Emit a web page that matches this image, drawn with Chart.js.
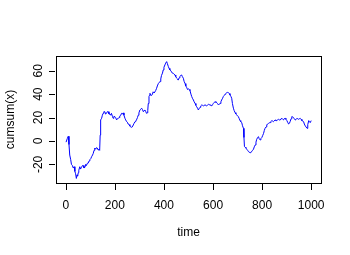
<!DOCTYPE html>
<html><head><meta charset="utf-8">
<script src="https://cdn.jsdelivr.net/npm/chart.js@4/dist/chart.umd.min.js"></script>
<style>html,body{margin:0;padding:0;background:#fff}#wrap{width:350px;height:255px}</style>
</head><body><div id="wrap"><canvas id="c" width="350" height="255"></canvas></div>
<script>
const time = [1,6,10,13,16,20,23,27,30,34,37,40,43,46,48,51,53,57,60,64,68,71,74,78,81,84,88,91,95,98,102,105,109,112,115,118,122,125,128,132,135,138,140,142,146,149,152,155,159,162,166,169,173,176,180,183,186,190,193,196,200,203,207,210,214,217,220,224,227,230,234,237,241,244,248,251,254,258,261,264,268,271,275,278,282,285,288,292,295,298,302,305,309,312,316,319,322,326,329,332,334,336,339,341,343,346,350,353,356,360,363,366,370,373,377,380,384,387,390,394,397,400,404,407,411,414,418,421,424,428,431,434,438,441,445,448,452,455,458,462,465,468,472,475,479,482,486,489,493,496,500,503,506,510,513,516,520,523,527,530,533,537,540,543,547,550,554,557,561,564,567,571,574,577,581,584,588,591,595,598,601,605,608,612,615,618,622,625,629,632,635,639,642,646,649,652,656,659,663,666,669,673,676,679,683,686,690,693,697,700,703,707,710,713,717,720,724,726,728,731,734,737,741,744,747,751,754,758,761,765,768,772,775,778,782,785,788,792,795,799,802,806,809,812,816,819,822,826,829,833,836,839,843,846,849,853,856,860,863,867,870,874,877,880,884,887,890,894,897,901,904,908,911,914,918,921,925,928,931,935,938,942,945,949,952,955,959,962,966,969,972,976,979,983,986,990,993,996,1000];
const cumsumX = [-1,2,4,-3,-12,-16,-20,-21,-23,-22,-26,-28,-32,-29,-30,-27,-25,-22,-24,-22.5,-21,-21,-23,-22.5,-20,-21,-19,-19,-17,-16,-15,-13.5,-12,-10.5,-8,-6,-7,-5.7,-6,-7.7,-7,-8,5,18,19.4,22,23.6,25,25,23,23.6,25,25,23,23,22,23.6,21,19.4,21,20.8,20,18,19,19.4,20,21.4,22,23.6,23,24,22,19.4,18,16.5,16,14.5,14,12.8,12,11.7,12,13.7,15,16.5,17,18,20,22,24,26.5,27,28,27,25,26,26.5,25,23.6,24,26,32,38,39,40.7,39,39,40,42,41,41,43,45,47,49,50,50.7,53,56,58,60.7,63,65,66.5,67.8,66,63.5,62,60.7,60,59,58,57.8,57,56.4,55,53.6,53,52,54,55,56,56.4,55,53.6,51,49,47,45.5,44,44.5,44,43,40,38,36.5,35,33.5,32,30.5,29.3,28,26.5,27.5,28.8,30,30.8,30.5,30,30.5,30.8,30.5,30,30.5,31.3,31,30.8,30.5,30,31,32,33,33.6,33,32.8,32,30.8,31.5,32,33.5,35,36.5,38,39,40,40.5,41.3,41.5,41.3,40.5,39.3,38,36.5,32,28,26,24.2,23,22.2,21.5,20.8,19,17.4,16.5,15.7,13,10.8,3,-4.8,-5.4,-6,-7,-8,-9,-9.5,-10,-9.5,-9,-8,-7,-5,-3.4,-1,1.4,3,3.7,2,0.9,2,3,4.5,6.5,9,10.8,12,13.7,14.5,15,15.5,15.7,16.5,17.4,17,16.5,17,18,17.5,17.4,18,18.5,18,18,19,19.4,18.5,18,19,19.4,18.5,17.4,16,14.5,15,16.5,19,20.8,20.5,20,19,18,18.5,19.4,19,18.5,19,19.4,18.5,17.4,17,16.5,14.5,12.8,12,10.8,14,17.4,16.5,15.7,17.4];
const xTicks = [0,200,400,600,800,1000];
const yTicks = [-20,0,20,40,60];
const xLabel = 'time';
const yLabel = 'cumsum(x)';

const FONT = '12px "Liberation Sans", Arial, sans-serif';
const rAxes = {
  id: 'rAxes',
  afterDraw(chart) {
    const ctx = chart.ctx, a = chart.chartArea;
    const xs = chart.scales.x, ys = chart.scales.y;
    ctx.save();
    ctx.strokeStyle = '#000'; ctx.lineWidth = 1;
    ctx.strokeRect(Math.round(a.left) + 0.5, Math.round(a.top) + 0.5, Math.round(a.right - a.left), Math.round(a.bottom - a.top));
    ctx.fillStyle = '#000'; ctx.font = FONT;
    // x ticks
    ctx.textAlign = 'center'; ctx.textBaseline = 'middle';
    ctx.beginPath();
    xTicks.forEach(v => {
      const px = Math.round(xs.getPixelForValue(v)) + 0.5;
      ctx.moveTo(px, a.bottom + 1); ctx.lineTo(px, a.bottom + 7);
    });
    ctx.stroke();
    xTicks.forEach(v => ctx.fillText(String(v), xs.getPixelForValue(v), a.bottom + 23));
    // y ticks
    ctx.beginPath();
    yTicks.forEach(v => {
      const py = Math.round(ys.getPixelForValue(v)) + 0.5;
      ctx.moveTo(a.left - 1, py); ctx.lineTo(a.left - 7, py);
    });
    ctx.stroke();
    yTicks.forEach(v => {
      ctx.save();
      ctx.translate(a.left - 17, ys.getPixelForValue(v));
      ctx.rotate(-Math.PI / 2);
      ctx.fillText(String(v), 0, 0);
      ctx.restore();
    });
    // axis titles
    ctx.fillText(xLabel, (a.left + a.right) / 2, a.bottom + 50);
    ctx.save();
    ctx.translate(a.left - 45, (a.top + a.bottom) / 2);
    ctx.rotate(-Math.PI / 2);
    ctx.fillText(yLabel, 0, 0);
    ctx.restore();
    ctx.restore();
  }
};

new Chart(document.getElementById('c'), {
  type: 'line',
  data: {
    datasets: [{
      data: time.map((t, i) => ({x: t, y: cumsumX[i]})),
      borderColor: '#0000ff',
      borderWidth: 1,
      pointRadius: 0,
      tension: 0,
      fill: false
    }]
  },
  options: {
    responsive: false,
    animation: false,
    events: [],
    layout: {padding: {top: 56, right: 29, left: 0, bottom: 0}},
    plugins: {legend: {display: false}, tooltip: {enabled: false}},
    scales: {
      x: {
        type: 'linear', min: -39.96, max: 1039.96,
        grid: {display: false}, border: {display: false},
        ticks: {display: false},
        afterFit(s) { s.height = 72; }
      },
      y: {
        type: 'linear', min: -35.9, max: 72.6,
        grid: {display: false}, border: {display: false},
        ticks: {display: false},
        afterFit(s) { s.width = 56; }
      }
    }
  },
  plugins: [rAxes]
});
</script>
</body></html>
